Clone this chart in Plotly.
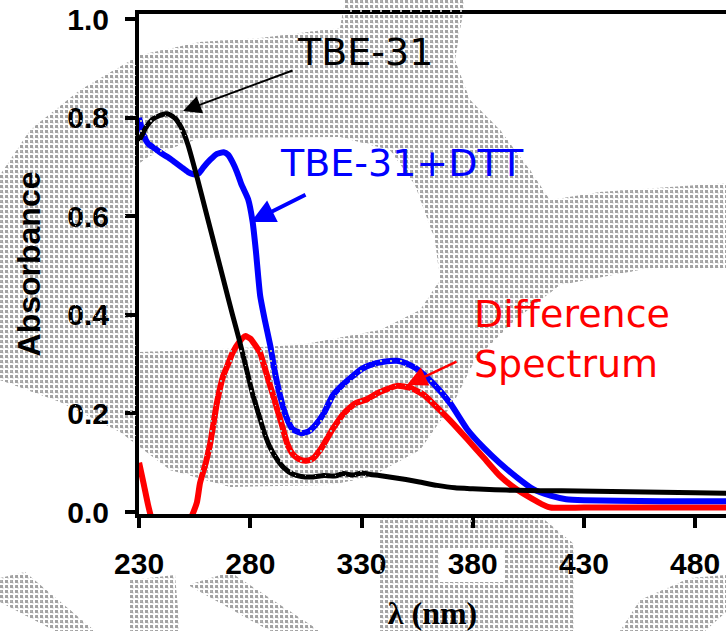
import base64
import plotly.graph_objects as go

# UV-vis absorbance spectra
wl_tbe = [230, 233, 236, 240, 243, 246, 249, 252, 256, 260,
          264, 268, 272, 275, 278, 281, 284, 286, 289, 292,
          295, 299, 303, 308, 313, 318, 322, 326, 330, 334,
          338, 344, 350, 356, 364, 372, 380, 390, 400, 410,
          420, 435, 450, 465, 480, 494]
abs_tbe = [0.753, 0.78, 0.797, 0.806, 0.808, 0.80, 0.78, 0.745, 0.68, 0.61,
           0.54, 0.47, 0.40, 0.35, 0.295, 0.24, 0.195, 0.165, 0.13, 0.107,
           0.09, 0.077, 0.072, 0.071, 0.074, 0.073, 0.078, 0.075, 0.079, 0.076,
           0.074, 0.07, 0.066, 0.061, 0.054, 0.049, 0.047, 0.045, 0.044, 0.043,
           0.043, 0.042, 0.041, 0.040, 0.039, 0.038]

wl_dtt = [230, 232, 234, 237, 240, 243, 246, 249, 252, 255,
          257, 259, 262, 265, 268, 270, 272, 274, 276, 279,
          281, 282.5, 284.4, 286.5, 289, 291, 293.4, 296, 299, 303,
          306, 309, 313, 317, 321, 325, 330, 335, 340, 346,
          350, 355, 362, 370, 377.5, 385, 392, 400, 407, 415,
          422, 430, 445, 465, 494]
abs_dtt = [0.80, 0.765, 0.748, 0.738, 0.728, 0.72, 0.71, 0.70, 0.69, 0.685,
           0.688, 0.70, 0.715, 0.727, 0.73, 0.725, 0.71, 0.69, 0.665, 0.635,
           0.59, 0.53, 0.44, 0.39, 0.337, 0.285, 0.236, 0.195, 0.168, 0.16,
           0.163, 0.175, 0.2, 0.236, 0.256, 0.272, 0.29, 0.3, 0.305, 0.307,
           0.302, 0.29, 0.262, 0.22, 0.168, 0.13, 0.1, 0.07, 0.047, 0.033,
           0.026, 0.024, 0.023, 0.022, 0.022]

wl_diff = [230, 232, 234, 236, 240, 244, 248, 251, 254, 256,
           257.4, 260, 262, 265, 267.8, 270, 272, 275, 277.7, 280,
           282, 284.4, 286, 288, 290.3, 292, 294, 296.5, 299, 302,
           305, 308, 312, 317, 322, 327, 332.5, 338, 346, 352,
           358, 362, 370, 377.5, 385, 392.3, 400, 407, 411, 415,
           430, 460, 494]
abs_diff = [0.10, 0.058, 0.015, -0.02, -0.06, -0.075, -0.06, -0.035, -0.005, 0.02,
            0.059, 0.10, 0.14, 0.222, 0.276, 0.30, 0.323, 0.345, 0.357, 0.352,
            0.34, 0.323, 0.30, 0.27, 0.236, 0.21, 0.18, 0.14, 0.118, 0.107,
            0.104, 0.108, 0.13, 0.168, 0.2, 0.22, 0.229, 0.243, 0.256, 0.252,
            0.238, 0.221, 0.185, 0.148, 0.11, 0.073, 0.045, 0.026, 0.016, 0.009,
            0.009, 0.009, 0.009]

x_ticks = [230, 280, 330, 380, 430, 480]
y_ticks = [0.0, 0.2, 0.4, 0.6, 0.8, 1.0]

# page geometry (px)
W, H = 726, 631
L, R, T, B = 139, 0, 14, 117
NM_PER_PX = 50 / 111.2
ABS_PER_PX = 1 / 492.7
X_LO = 229.95
Y_LO = -2 * ABS_PER_PX


def to_x(px):
    return X_LO + (px - L) * NM_PER_PX


def to_y(py):
    return Y_LO + ((H - B) - py) * ABS_PER_PX


fig = go.Figure()
fig.add_trace(go.Scatter(x=wl_diff, y=abs_diff, mode="lines", name="Difference Spectrum",
                         line=dict(color="#ff0000", width=6, shape="spline", smoothing=0.5)))
fig.add_trace(go.Scatter(x=wl_dtt, y=abs_dtt, mode="lines", name="TBE-31+DTT",
                         line=dict(color="#0000ff", width=6, shape="spline", smoothing=0.5)))
fig.add_trace(go.Scatter(x=wl_tbe, y=abs_tbe, mode="lines", name="TBE-31",
                         line=dict(color="#000000", width=5, shape="spline", smoothing=0.5)))

label_font = dict(family="DejaVu Sans", size=38)


def label(text, px, py, color, xanchor="center"):
    fig.add_annotation(x=to_x(px), y=to_y(py), text=text, showarrow=False,
                       xanchor=xanchor, yanchor="middle",
                       font=dict(color=color, **label_font))


def pointer(head_px, head_py, tail_px, tail_py, color, width, size):
    fig.add_annotation(x=to_x(head_px), y=to_y(head_py), text="",
                       showarrow=True, arrowhead=2, arrowsize=size,
                       arrowwidth=width, arrowcolor=color,
                       ax=tail_px - head_px, ay=tail_py - head_py,
                       standoff=0, startstandoff=0)


label("TBE-31", 365, 52, "#000000")
pointer(183, 111, 294, 70, "#000000", 2, 1.8)
label("TBE-31+DTT", 402, 163, "#0000ff")
pointer(251, 222, 307, 194, "#0000ff", 4, 1.2)
label("Difference", 472, 314, "#ff0000", xanchor="left")
label("Spectrum", 472, 364, "#ff0000", xanchor="left")
pointer(407, 385, 458, 361, "#ff0000", 2.5, 1.6)

# grey dotted background watermark, drawn as SVG layers across the page
ring_outer = [(0, 175), (30, 130), (80, 90), (140, 55), (200, 42), (260, 38), (340, 28),
              (345, 0), (465, 0), (455, 60), (470, 100), (500, 130), (530, 170),
              (550, 200), (600, 192), (726, 183), (726, 268), (650, 268), (560, 285),
              (515, 320), (475, 360), (455, 400), (420, 450), (370, 477), (330, 485),
              (230, 487), (170, 470), (120, 432), (60, 402), (0, 380)]
ring_inner = [(132, 330), (132, 168), (150, 156), (200, 138), (340, 137), (390, 150),
              (415, 185), (435, 240), (440, 280), (420, 310), (380, 330), (300, 345),
              (200, 350), (140, 352)]
marks_low = [
    [(0, 578), (25, 572), (95, 631), (55, 631), (0, 602)],
    [(130, 580), (175, 575), (180, 631), (130, 631)],
    [(188, 585), (230, 572), (320, 631), (270, 631)],
    [(380, 516), (540, 516), (575, 545), (575, 631), (380, 631)],
    [(726, 575), (726, 612), (705, 631), (620, 631), (640, 600), (690, 578)],
]
mark_holes = [[(440, 548), (505, 548), (505, 582), (440, 582)]]


def path_d(pts):
    return "M" + " L".join(f"{x},{y}" for x, y in pts) + " Z"


d_all = path_d(ring_outer) + " " + path_d(ring_inner)
for poly in marks_low + mark_holes:
    d_all += " " + path_d(poly)


def dotted_svg(period, dot, color):
    svg = (
        f'<svg xmlns="http://www.w3.org/2000/svg" width="{W}" height="{H}" '
        f'viewBox="0 0 {W} {H}">'
        f'<defs><pattern id="p" width="{period}" height="{period}" patternUnits="userSpaceOnUse">'
        f'<rect x="0" y="0" width="{dot}" height="{dot}" fill="{color}"/>'
        f'<rect x="{period / 2}" y="{period / 2}" width="1" height="1" fill="{color}"/>'
        '</pattern></defs>'
        f'<path d="{d_all}" fill="url(#p)" fill-rule="evenodd"/>'
        '</svg>'
    )
    return "data:image/svg+xml;base64," + base64.b64encode(svg.encode()).decode()


pw, ph = W - L - R, H - T - B
page_box = dict(xref="paper", yref="paper", x=-L / pw, y=1 + T / ph,
                sizex=W / pw, sizey=H / ph, xanchor="left", yanchor="top",
                sizing="stretch")
# dense texture behind the plot, sparse dots over the curves and text
fig.add_layout_image(source=dotted_svg(5, 3, "#a2a2a2"), layer="below", **page_box)
fig.add_layout_image(source=dotted_svg(10, 2, "#b0b0b0"), layer="above", **page_box)

tick_font = dict(family="Liberation Sans", size=30, color="black", weight="bold")

fig.update_xaxes(
    range=[X_LO, to_x(W)], tickvals=x_ticks, ticks="outside", ticklen=10,
    tickwidth=4, tickcolor="black", showline=True, linewidth=4, linecolor="black",
    mirror=True, showgrid=False, zeroline=False, tickfont=tick_font,
    ticklabelstandoff=10,
    title=dict(text="λ (nm)", standoff=30,
               font=dict(family="Liberation Serif", size=32, color="black", weight="bold")),
)
fig.update_yaxes(
    range=[Y_LO, to_y(T)], tickvals=y_ticks, tickformat=".1f", ticks="outside",
    ticklen=10, tickwidth=4, tickcolor="black", showline=True, linewidth=4,
    linecolor="black", mirror=False, showgrid=False, zeroline=False,
    tickfont=tick_font, ticklabelstandoff=10,
    title=dict(text="Absorbance", standoff=18,
               font=dict(family="Liberation Sans", size=32, color="black", weight="bold")),
)
fig.update_layout(
    width=W, height=H, margin=dict(l=L, r=R, t=T, b=B),
    paper_bgcolor="rgba(0,0,0,0)", plot_bgcolor="rgba(0,0,0,0)", showlegend=False,
)

fig.write_html("out.html")
